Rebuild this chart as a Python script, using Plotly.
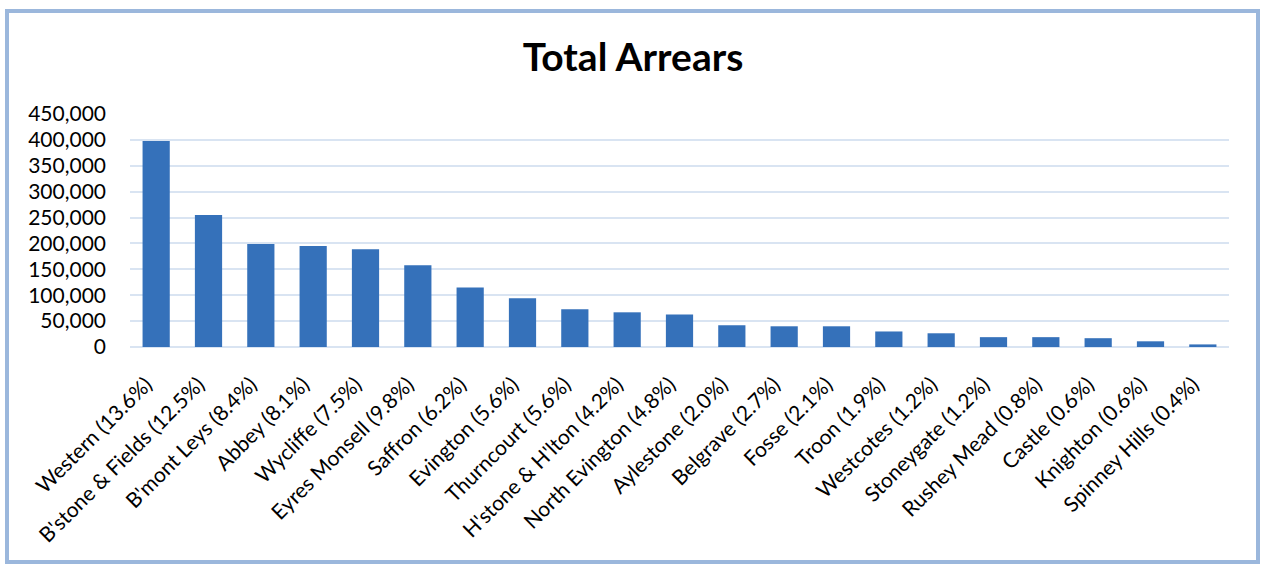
import plotly.graph_objects as go

categories = ["Western (13.6%)", "B'stone & Fields (12.5%)", "B'mont Leys (8.4%)", "Abbey (8.1%)",
              "Wycliffe (7.5%)", "Eyres Monsell (9.8%)", "Saffron (6.2%)", "Evington (5.6%)",
              "Thurncourt (5.6%)", "H'stone & H'lton (4.2%)", "North Evington (4.8%)",
              "Aylestone (2.0%)", "Belgrave (2.7%)", "Fosse (2.1%)", "Troon (1.9%)",
              "Westcotes (1.2%)", "Stoneygate (1.2%)", "Rushey Mead (0.8%)", "Castle (0.6%)",
              "Knighton (0.6%)", "Spinney Hills (0.4%)"]
arrears = [398000, 255000, 199000, 195000, 189000, 158000, 115000, 94000,
           73000, 67000, 63000, 42000, 40000, 40000, 30000,
           26500, 19000, 19000, 17000, 11000, 5000]
y_ticks = [0, 50000, 100000, 150000, 200000, 250000, 300000, 350000, 400000, 450000]

FONT = "Lato"

fig = go.Figure(go.Bar(
    x=categories, y=arrears,
    marker=dict(color="#3571BA", line=dict(width=0)),
))

L, R, T, B = 130, 37, 114, 220
W, H = 1266, 567
pw, ph = W - L - R, H - T - B

def px(x):
    return (x - L) / pw

def py(y):
    return (H - B - y) / ph

fig.update_layout(
    width=W, height=H,
    margin=dict(l=L, r=R, t=T, b=B),
    paper_bgcolor="white", plot_bgcolor="white",
    bargap=0.48,
    showlegend=False,
    title=dict(text="<b>Total Arrears</b>", x=0.5, xanchor="center", xref="container",
               y=1 - 57 / H, yanchor="middle",
               font=dict(family=FONT, size=39, color="black")),
    font=dict(family=FONT, color="black"),
    xaxis=dict(tickangle=-45, tickfont=dict(size=21, family=FONT, color="black"),
               showgrid=False, showline=False, ticks="",
               ticklabelstandoff=20, ticklabelshift=-10),
    yaxis=dict(range=[0, 450000], tickvals=y_ticks, tickformat=",d",
               tickfont=dict(size=21, family=FONT, color="black"),
               showgrid=True, gridcolor="#D9E4F2", gridwidth=2,
               zeroline=True, zerolinecolor="#D9E4F2", zerolinewidth=2,
               showline=False, ticks="", ticklabelstandoff=23),
    shapes=[dict(type="rect", xref="paper", yref="paper",
                 x0=px(7), x1=px(1258), y0=py(562), y1=py(11),
                 line=dict(color="#9BB7DC", width=4), fillcolor="rgba(0,0,0,0)", layer="below")],
)

fig.write_html("out.html")
